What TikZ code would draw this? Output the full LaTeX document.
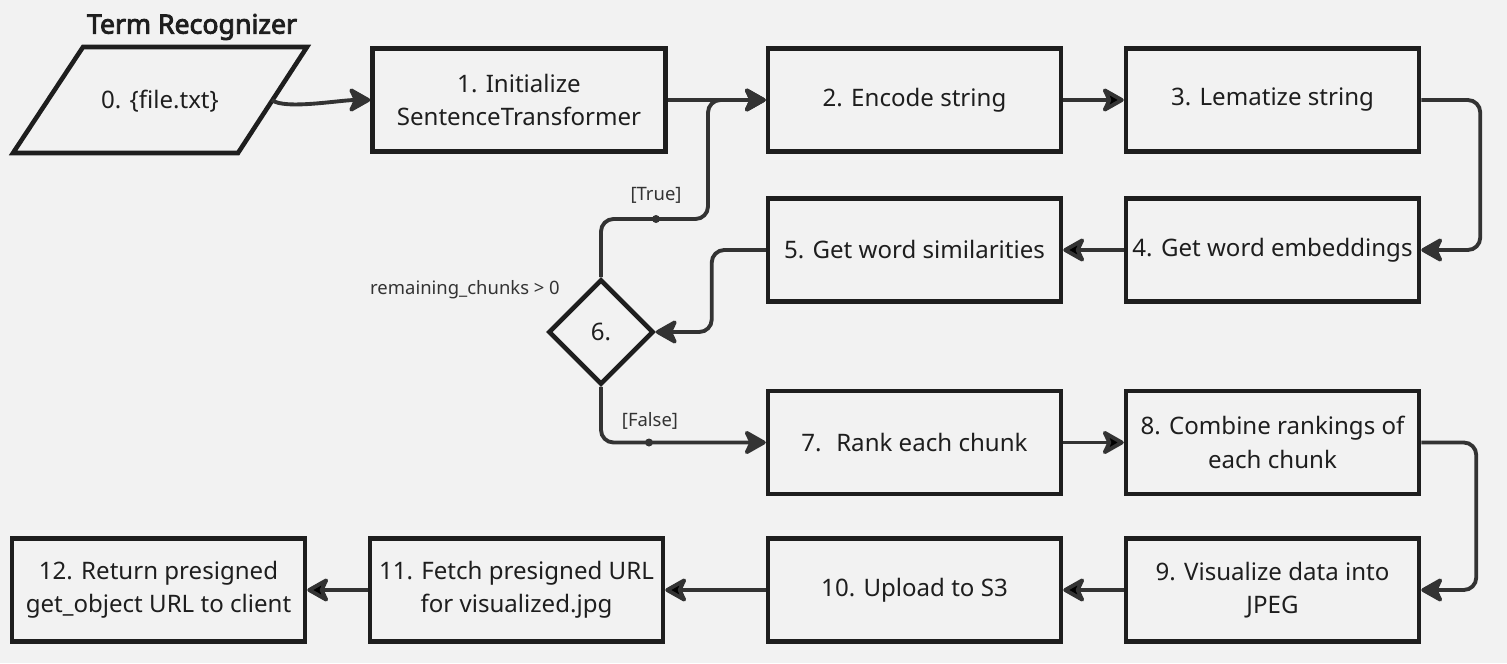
\documentclass[tikz,border=0pt]{standalone}
\usepackage{fontspec}
\setmainfont{Noto Sans}
\newfontfamily\titlefont{Noto Sans}[FakeBold=3.2]
\usetikzlibrary{shapes.geometric,arrows.meta}
\definecolor{bgc}{HTML}{F2F2F2}
\definecolor{ink}{HTML}{1E1E1E}
\definecolor{wire}{HTML}{333333}
\tikzset{
  box/.style={draw=ink, line width=2.6pt, minimum width=5.86cm, minimum height=2.06cm,
    align=center, text=ink, inner sep=2pt, font=\fontsize{13.7}{19}\selectfont},
  flow/.style={draw=wire, line width=2.2pt, rounded corners=0.25cm,
    -{Stealth[length=5mm,width=5.6mm,inset=1.3mm,round]}},
  lbl/.style={text=wire, font=\fontsize{10.5}{12}\selectfont},
  dot/.style={circle, fill=wire, inner sep=0pt, minimum size=0.16cm},
}

\begin{document}
\begin{tikzpicture}[x=0.02cm,y=-0.02cm]
					\fill[bgc] (0,0) rectangle (1507,663);
					\useasboundingbox (0,0) rectangle (1507,663);
					\node[text=ink, font=\titlefont\fontsize{15.2}{17}\selectfont](title) at (192,27){Term Recognizer};
					% input parallelogram
					\draw[ink, line width=2.6pt, line join=miter] (13,153) -- (83,47) -- (307,47) -- (238,153) -- cycle;
					\node[text=ink, font=\fontsize{13.7}{19}\selectfont](v0) at (160,101){0. \{file.txt\}};
					\coordinate (v0e) at (272,100);
					\node[box](v1) at (519,100){1. Initialize\\SentenceTransformer};
					\node[box](v2) at (914.5,100){2. Encode string};
					\node[box](v3) at (1272.5,100){3. Lematize string};
					\node[box](v4) at (1272.5,250){4. Get word embeddings};
					\node[box](v5) at (914.5,250){5. Get word similarities};
					\node[box, diamond, minimum width=2.1cm, minimum height=2.1cm, inner sep=0pt](v6) at (601,332){6.};
					\node[box](v7) at (914.5,442.5){7.~ Rank each chunk};
					\node[box](v8) at (1272.5,442.5){8. Combine rankings of\\each chunk};
					\node[box](v9) at (1272.5,590){9. Visualize data into\\JPEG};
					\node[box](v10) at (914.5,590){10. Upload to S3};
					\node[box](v11) at (516.5,590){11. Fetch presigned URL\\for visualized.jpg};
					\node[box](v12) at (158.5,590){12. Return presigned\\get\_object URL to client};
					% decision labels
					\node[lbl](cond) at (465,290){remaining\_chunks > 0};
					\node[dot](tdot) at (656,219){};
					\node[lbl] at (656,195){[True]};
					\node[dot](fdot) at (649,442.5){};
					\node[lbl] at (650,421){[False]};
					\coordinate (tj) at (708,219);
					\path[flow]
						(v1) edge (v2)
						(v2) edge (v3)
						(v4) edge (v5)
						(v7) edge (v8)
						(v9) edge (v10)
						(v10) edge (v11)
						(v11) edge (v12);
					\draw[flow] (v0e) .. controls +(12,10) and +(-30,0) .. (v1.west);
					\draw[flow] (v3.east) -- ++(59,0) |- (v4.east);
					\draw[flow] (v5.west) -- ++(-54,0) |- (v6.east);
					\draw[flow] (v6.north) |- (tj) |- (v2.west);
					\draw[flow] (v6.south) |- (v7.west);
					\draw[flow] (v8.east) -- ++(55,0) |- (v9.east);
				\end{tikzpicture}
\end{document}
